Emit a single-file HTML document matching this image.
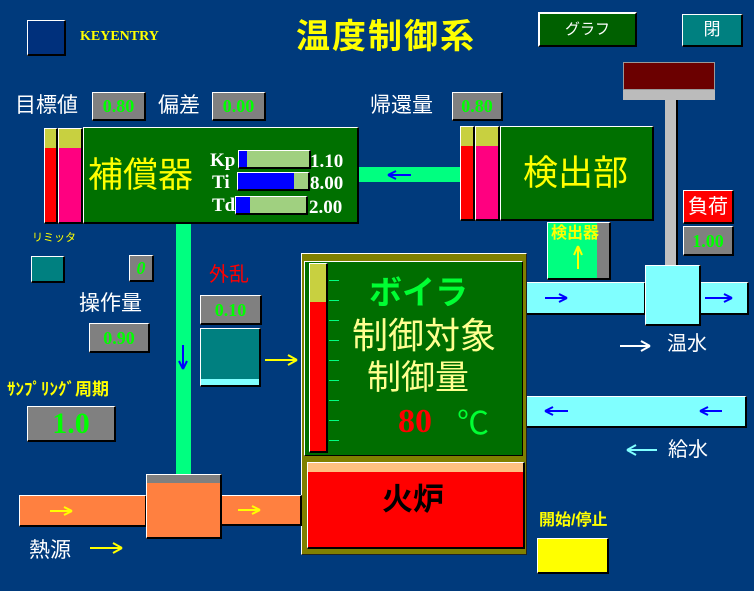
<!DOCTYPE html>
<html><head><meta charset="utf-8"><style>
body{margin:0;width:754px;height:591px;background:#003a7c;position:relative;overflow:hidden;font-family:"Liberation Serif","Noto Serif CJK SC","Noto Sans CJK JP",serif}
div{position:absolute;box-sizing:border-box}
.b{border-top:1px solid #fff;border-left:1px solid #fff;border-bottom:2px solid #000;border-right:2px solid #000}
.g{background:#808080;color:#00ff00;font-weight:bold;text-align:center;font-family:"Liberation Serif",serif}
.t{white-space:nowrap;line-height:1}
.w{color:#fff}.y{color:#ffff00}
.cj{font-family:"Liberation Sans","Noto Sans CJK JP",sans-serif}
svg{position:absolute;left:0;top:0}
</style></head><body>
<div class="b" style="left:27px;top:20px;width:39px;height:36px;background:#00307c"></div>
<div class="t y" style="left:80px;top:30px;font-size:14px;font-weight:bold">KEYENTRY</div>
<div class="t y cj" style="left:296px;top:20px;font-size:34px;letter-spacing:2px;font-weight:bold">温度制御系</div>
<div class="b cj" style="left:538px;top:12px;width:99px;height:35px;background:#006000;border:2px solid #fff;border-right-color:#000;border-bottom-color:#000;color:#fff;text-align:center;line-height:31px;font-size:15px">グラフ</div>
<div class="b cj" style="left:682px;top:14px;width:61px;height:33px;background:#008080;color:#fff;text-align:center;line-height:30px;font-size:17px">閉</div>
<div style="left:623px;top:62px;width:92px;height:28px;background:#6b0000;border:1px solid #999"></div>
<div style="left:623px;top:90px;width:92px;height:10px;background:#bbb"></div>
<div style="left:665px;top:100px;width:13px;height:166px;background:#c0c0c0;border-right:2px solid #000"></div>

<div class="t w cj" style="left:15px;top:95px;font-size:21px">目標値</div>
<div class="b g" style="left:92px;top:92px;width:54px;height:29px;font-size:18px;line-height:26px">0.80</div>
<div class="t w cj" style="left:158px;top:95px;font-size:21px">偏差</div>
<div class="b g" style="left:212px;top:92px;width:54px;height:29px;font-size:18px;line-height:26px">0.00</div>
<div class="t w cj" style="left:370px;top:95px;font-size:21px">帰還量</div>
<div class="b g" style="left:452px;top:92px;width:51px;height:29px;font-size:18px;line-height:26px">0.80</div>

<div class="b" style="left:44px;top:128px;width:14px;height:96px;background:#ff0000"><div style="left:0;top:0;width:100%;height:19px;background:#c8d040"></div></div>
<div class="b" style="left:58px;top:128px;width:25px;height:96px;background:#ff0080"><div style="left:0;top:0;width:100%;height:19px;background:#c8d040"></div></div>
<div class="b" style="left:83px;top:127px;width:276px;height:97px;background:#007000"></div>
<div class="t y cj" style="left:88px;top:158px;font-size:35px">補償器</div>
<div class="t w" style="left:210px;top:151px;font-size:19px;font-weight:bold">Kp</div>
<div class="t w" style="left:212px;top:173px;font-size:19px;font-weight:bold">Ti</div>
<div class="t w" style="left:212px;top:196px;font-size:19px;font-weight:bold">Td</div>
<div class="b" style="left:238px;top:150px;width:73px;height:19px;background:#a0d080"><div style="left:0;top:0;width:8px;height:100%;background:#0000ff"></div></div>
<div class="b" style="left:237px;top:172px;width:73px;height:19px;background:#a0d080"><div style="left:0;top:0;width:56px;height:100%;background:#0000ff"></div></div>
<div class="b" style="left:235px;top:196px;width:73px;height:19px;background:#a0d080"><div style="left:0;top:0;width:14px;height:100%;background:#0000ff"></div></div>
<div class="t w" style="left:310px;top:152px;font-size:19px;font-weight:bold">1.10</div>
<div class="t w" style="left:310px;top:174px;font-size:19px;font-weight:bold">8.00</div>
<div class="t w" style="left:309px;top:198px;font-size:19px;font-weight:bold">2.00</div>

<div style="left:359px;top:167px;width:101px;height:15px;background:#00ff80"></div>

<div class="b" style="left:460px;top:126px;width:15px;height:95px;background:#ff0000"><div style="left:0;top:0;width:100%;height:19px;background:#c8d040"></div></div>
<div class="b" style="left:475px;top:126px;width:25px;height:95px;background:#ff0080"><div style="left:0;top:0;width:100%;height:19px;background:#c8d040"></div></div>
<div class="b" style="left:500px;top:126px;width:154px;height:95px;background:#007000"></div>
<div class="t y cj" style="left:523px;top:156px;font-size:35px">検出部</div>

<div class="b cj" style="left:683px;top:190px;width:51px;height:34px;background:#ff0000;color:#fff;font-size:20px;text-align:center;line-height:32px">負荷</div>
<div class="b g" style="left:683px;top:226px;width:51px;height:30px;font-size:18px;line-height:28px">1.00</div>

<div class="b" style="left:547px;top:222px;width:64px;height:58px;background:#808080"><div style="left:0;top:0;width:49px;height:100%;background:#00ff80"></div></div>
<div class="t y cj" style="left:551px;top:226px;font-size:16px;font-weight:bold">検出器</div>

<div class="b" style="left:526px;top:282px;width:120px;height:33px;background:#80ffff"></div>
<div class="b" style="left:700px;top:282px;width:49px;height:33px;background:#80ffff"></div>
<div class="b" style="left:645px;top:265px;width:56px;height:61px;background:#80ffff"></div>
<div class="t w cj" style="left:667px;top:334px;font-size:20px">温水</div>

<div class="b" style="left:526px;top:396px;width:221px;height:32px;background:#80ffff"></div>
<div class="t w cj" style="left:668px;top:440px;font-size:20px">給水</div>

<div class="t y cj" style="left:32px;top:233px;font-size:11px">リミッタ</div>
<div class="b" style="left:31px;top:256px;width:34px;height:27px;background:#008080"></div>
<div class="b g" style="left:129px;top:255px;width:25px;height:27px;font-size:18px;font-style:italic;line-height:25px">0</div>
<div class="t w cj" style="left:79px;top:293px;font-size:21px">操作量</div>
<div class="b g" style="left:89px;top:323px;width:61px;height:30px;font-size:18px;line-height:28px">0.90</div>
<div class="t y cj" style="left:7px;top:381px;font-size:17px;font-weight:bold">ｻﾝﾌﾟﾘﾝｸﾞ周期</div>
<div class="b g" style="left:27px;top:406px;width:89px;height:36px;font-size:30px;line-height:34px">1.0</div>

<div style="left:176px;top:224px;width:15px;height:252px;background:#00ff80"></div>

<div class="t cj" style="left:209px;top:265px;font-size:20px;color:#ff0000">外乱</div>
<div class="b g" style="left:200px;top:295px;width:62px;height:30px;font-size:18px;line-height:28px">0.10</div>
<div class="b" style="left:200px;top:328px;width:61px;height:59px;background:#008080"><div style="left:0;bottom:0;width:100%;height:6px;background:#80ffff"></div></div>

<div style="left:301px;top:253px;width:226px;height:302px;background:#808000;border:1px solid #fff;border-right-color:#222;border-bottom-color:#222"></div>
<div style="left:304px;top:261px;width:219px;height:195px;background:#006e00;border:1px solid #fff;border-right-color:#000;border-bottom-color:#000"></div>
<div style="left:309px;top:263px;width:19px;height:190px;background:#ff0000;border:1px solid #fff;border-right:2px solid #000;border-bottom:2px solid #000"><div style="left:0;top:0;width:100%;height:38px;background:#c8d040"></div></div>
<div style="left:329px;top:280px;width:10px;height:1px;background:#00ff80;box-shadow:0 20px #00ff80,0 40px #00ff80,0 60px #00ff80,0 80px #00ff80,0 100px #00ff80,0 120px #00ff80,0 140px #00ff80,0 160px #00ff80"></div>
<div class="t cj" style="left:369px;top:276px;font-size:33px;color:#00ff33;font-weight:bold">ボイラ</div>
<div class="t cj" style="left:352px;top:318px;font-size:36px;color:#ffff90">制御対象</div>
<div class="t cj" style="left:367px;top:361px;font-size:34px;color:#ffff90">制御量</div>
<div class="t" style="left:398px;top:405px;font-size:34px;color:#ff0000;font-weight:bold">80</div>
<div class="t cj" style="left:457px;top:407px;font-size:32px;color:#00ff33">℃</div>
<div style="left:307px;top:462px;width:218px;height:87px;background:#ff0000;border:1px solid #fff;border-right:2px solid #000;border-bottom:2px solid #000"><div style="left:0;top:0;width:100%;height:9px;background:#ffc080"></div></div>
<div class="t cj" style="left:382px;top:484px;font-size:31px;font-weight:bold;color:#000">火炉</div>

<div class="b" style="left:19px;top:495px;width:128px;height:32px;background:#ff8040"></div>
<div class="b" style="left:220px;top:495px;width:82px;height:31px;background:#ff8040"></div>
<div class="b" style="left:146px;top:474px;width:76px;height:65px;background:#ff8040"><div style="left:0;top:0;width:100%;height:8px;background:#808080"></div></div>
<div class="t w cj" style="left:29px;top:540px;font-size:21px">熱源</div>

<div class="t y cj" style="left:539px;top:513px;font-size:16px;font-weight:bold">開始/停止</div>
<div class="b" style="left:537px;top:538px;width:72px;height:36px;background:#ffff00"></div>

<svg width="754" height="591" fill="none" stroke-width="2">
<g stroke="#0000ff">
<path d="M388 175H411M388 175l8-4M388 175l8 4"/>
<path d="M545 298H567M567 298l-8-4M567 298l-8 4"/>
<path d="M705 298H732M732 298l-8-4M732 298l-8 4"/>
<path d="M545 411H568M545 411l8-4M545 411l8 4"/>
<path d="M700 411H722M700 411l8-4M700 411l8 4"/>
<path d="M183 345V369M183 369l-4-8M183 369l4-8"/>
</g>
<g stroke="#ffff00">
<path d="M265 360H297M297 360l-9-5M297 360l-9 5"/>
<path d="M50 511H72M72 511l-8-4M72 511l-8 4"/>
<path d="M238 510H260M260 510l-8-4M260 510l-8 4"/>
<path d="M90 548H122M122 548l-9-5M122 548l-9 5"/>
<path d="M578 246V269M578 246l-4 9M578 246l4 9"/>
</g>
<g stroke="#fff"><path d="M620 346H650M650 346l-9-5M650 346l-9 5"/></g>
<g stroke="#80ffff"><path d="M627 450H657M627 450l9-5M627 450l9 5"/></g>
</svg>
</body></html>
